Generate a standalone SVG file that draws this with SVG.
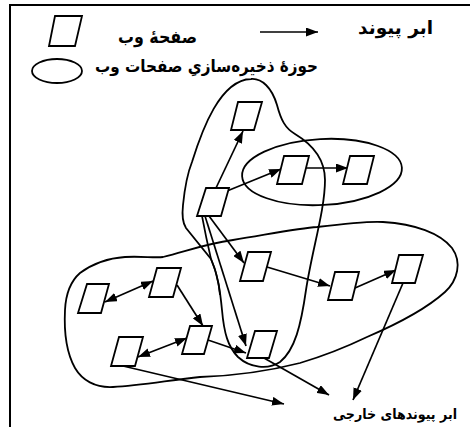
<svg xmlns="http://www.w3.org/2000/svg" width="470" height="427" viewBox="0 0 470 427">
<style>
.frame{fill:none;stroke:#000;stroke-width:2}
.page{fill:#fff;stroke:#000;stroke-width:1.8;stroke-linejoin:miter}
.pool{fill:none;stroke:#000;stroke-width:1.8}
.edge{fill:none;stroke:#000;stroke-width:1.7}
.lbl{font-family:"DejaVu Sans",sans-serif;font-weight:bold;fill:#000;text-anchor:middle}
</style>
<defs>
<marker id="ah" markerUnits="userSpaceOnUse" markerWidth="12" markerHeight="9" refX="12" refY="4.5" orient="auto-start-reverse">
<path d="M0,0 L12,4.5 L0,9 Z" fill="#000"/>
</marker>
</defs>
<rect width="470" height="427" fill="#fff"/>
<path class="frame" d="M10,427 L10,5 L470,5"/>

<g id="legend">
<polygon class="page" points="55,16 82,16 75,46 49,46"/>
<text class="lbl" x="157.5" y="43" font-size="18" textLength="79" lengthAdjust="spacingAndGlyphs">صفحهٔ وب</text>
<path class="edge" d="M260,32 L318,32" marker-end="url(#ah)"/>
<text class="lbl" x="395.5" y="34" font-size="18" textLength="75" lengthAdjust="spacingAndGlyphs">ابر پیوند</text>
<ellipse class="pool" cx="57" cy="71" rx="25" ry="12"/>
<text class="lbl" x="206.5" y="72" font-size="17" textLength="223" lengthAdjust="spacingAndGlyphs">حوزهٔ ذخیره&#x200C;سازیِ صفحات وب</text>
</g>

<g id="pools">
<path id="pool-vertical" class="pool" d="M251,79 C262,78 272,88 277,105 C281,120 285,128 295,134 C310,143 325,158 325,180 C325,210 312,250 306,290 C301,325 295,350 280,362 C268,370 250,368 238,357 C228,347 224,333 222,310 C220,290 218,275 211,259 L186,228 C182,222 182,214 183,205 C185,185 188,172 192,162 C202,130 220,80 251,79 Z"/>
<ellipse id="pool-top" class="pool" cx="322" cy="172" rx="80" ry="33" transform="rotate(-3 322 172)"/>
<path id="pool-bottom" class="pool" d="M163,257 C190,250 205,244 233,240 C270,234 300,228 317,227 C350,223 370,221 383,222 C415,224 440,233 452,248 C462,262 458,280 445,292 C425,310 395,325 367,337 C340,350 320,357 300,363 C265,372 230,376 200,377 C170,380 140,386 113,387 C95,388 82,380 75,368 C66,352 64,330 65,310 C66,290 72,280 80,273 C95,262 110,258 125,257 C140,256 155,258 163,257 Z"/>
</g>

<g id="connectors">
<path class="edge" d="M216,188 L243,131" marker-end="url(#ah)"/>
<path class="edge" d="M227,191 L281,169" marker-end="url(#ah)"/>
<path class="edge" d="M306,168 L348,168" marker-end="url(#ah)"/>
<path class="edge" d="M209,216 L244,263" marker-end="url(#ah)"/>
<path class="edge" d="M205,216 L246,346" marker-end="url(#ah)"/>
<path class="edge" d="M202,216 C205,232 208,246 211,259 C216,270 219,285 220,295"/>
<path class="edge" d="M267,267 L330,286" marker-end="url(#ah)"/>
<path class="edge" d="M355,288 L396,270" marker-end="url(#ah)"/>
<path class="edge" d="M403,283 L353,400" marker-end="url(#ah)"/>
<path class="edge" d="M264,358 L329,395" marker-end="url(#ah)"/>
<path class="edge" d="M123,366 L284,404" marker-end="url(#ah)"/>
<path class="edge" d="M105,302 L153,281" marker-start="url(#ah)" marker-end="url(#ah)"/>
<path class="edge" d="M177,285 L203,326" marker-end="url(#ah)"/>
<path class="edge" d="M138,357 L187,338" marker-start="url(#ah)" marker-end="url(#ah)"/>
<path class="edge" d="M208,340 L246,353" marker-end="url(#ah)"/>
</g>

<g id="node-A"><polygon class="page" points="238,102 262,102 254,130 231,130"/></g>
<g id="node-B"><polygon class="page" points="206,188 229,188 221,216 197,216"/></g>
<g id="node-C"><polygon class="page" points="284,156 309,156 302,184 277,184"/></g>
<g id="node-D"><polygon class="page" points="350,156 374,156 367,184 343,184"/></g>
<g id="node-E"><polygon class="page" points="248,252 271,252 263,281 240,281"/></g>
<g id="node-F"><polygon class="page" points="335,272 359,272 352,300 328,300"/></g>
<g id="node-G"><polygon class="page" points="399,255 423,255 415,283 392,283"/></g>
<g id="node-H"><polygon class="page" points="87,284 109,284 101,313 78,313"/></g>
<g id="node-I"><polygon class="page" points="157,268 181,268 173,297 149,297"/></g>
<g id="node-J"><polygon class="page" points="190,326 212,326 204,354 182,354"/></g>
<g id="node-K"><polygon class="page" points="119,337 143,337 135,366 111,366"/></g>
<g id="node-L"><polygon class="page" points="255,331 277,331 269,358 247,358"/></g>

<g id="external">
<text class="lbl" x="395" y="419" font-size="14" textLength="124" lengthAdjust="spacingAndGlyphs">ابر پیوندهای خارجی</text>
</g>
</svg>
